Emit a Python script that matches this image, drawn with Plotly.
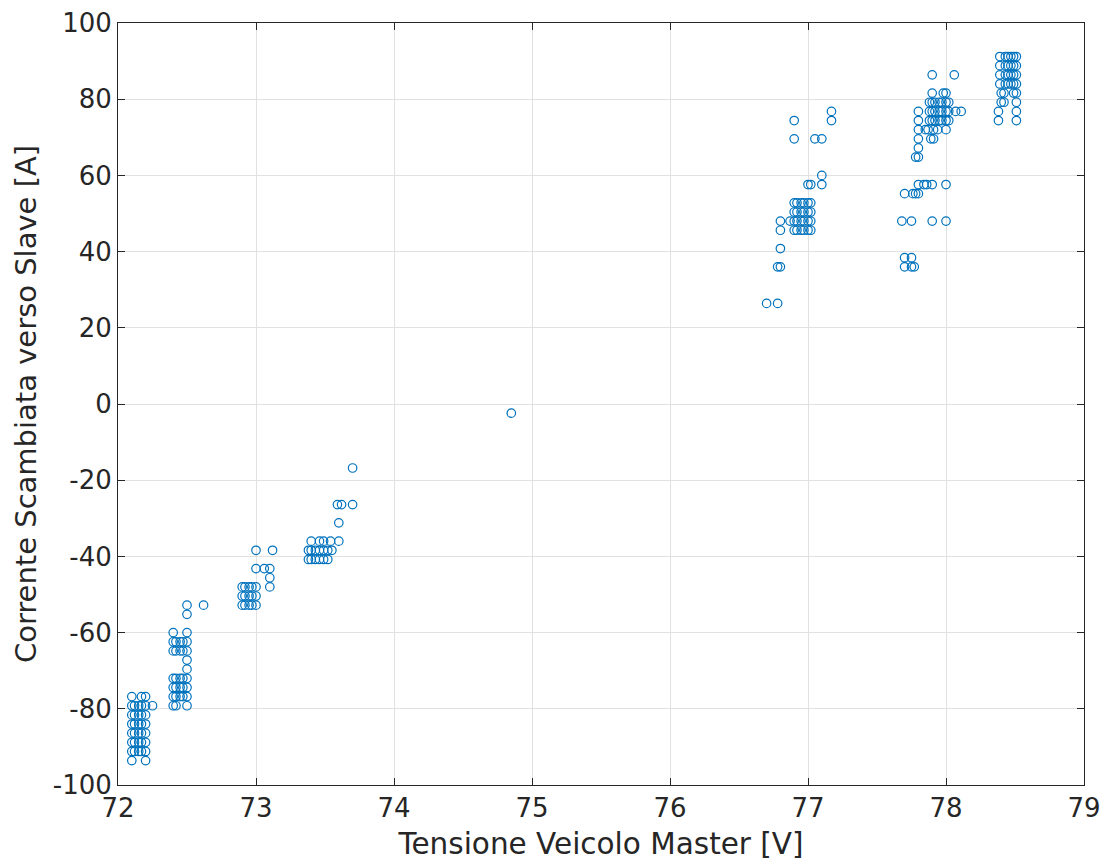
import plotly.graph_objects as go

# ---- data (current levels -> list of voltages) ----
rows_a = {
    -76.8: [72.10, 72.17, 72.20],
    -79.2: [72.10, 72.12, 72.15, 72.17, 72.20, 72.25],
    -81.6: [72.10, 72.12, 72.15, 72.17, 72.20],
    -84.0: [72.10, 72.12, 72.15, 72.17, 72.20],
    -86.4: [72.10, 72.12, 72.15, 72.17, 72.20],
    -88.8: [72.10, 72.12, 72.15, 72.17, 72.20],
    -91.2: [72.10, 72.12, 72.15, 72.17, 72.20],
    -93.6: [72.10, 72.20],
}
rows_b = {
    -52.8: [72.50, 72.62],
    -55.2: [72.50],
    -60.0: [72.40, 72.50],
    -62.4: [72.40, 72.42, 72.45, 72.47, 72.50],
    -64.8: [72.40, 72.42, 72.45, 72.47, 72.50],
    -67.2: [72.50],
    -69.6: [72.50],
    -72.0: [72.40, 72.42, 72.45, 72.47, 72.50],
    -74.4: [72.40, 72.42, 72.45, 72.47, 72.50],
    -76.8: [72.40, 72.42, 72.45, 72.47, 72.50],
    -79.2: [72.40, 72.42, 72.50],
}
rows_c = {
    -38.4: [73.00, 73.12],
    -43.2: [73.00, 73.06, 73.10],
    -45.6: [73.10],
    -48.0: [72.90, 72.92, 72.95, 72.97, 73.00, 73.10],
    -50.4: [72.90, 72.92, 72.95, 72.97, 73.00],
    -52.8: [72.90, 72.92, 72.95, 72.97, 73.00],
}
rows_d = {
    -16.8: [73.70],
    -26.4: [73.59, 73.62, 73.70],
    -31.2: [73.60],
    -36.0: [73.40, 73.46, 73.49, 73.54, 73.60],
    -38.4: [73.38, 73.40, 73.43, 73.46, 73.49, 73.52, 73.55],
    -40.8: [73.38, 73.40, 73.43, 73.46, 73.49, 73.52],
}
rows_single = {
    -2.4: [74.85],
}
rows_e = {
    26.4: [76.70, 76.78],
    36.0: [76.78, 76.80],
    40.8: [76.80],
    45.6: [76.80, 76.90, 76.92, 76.95, 76.97, 77.00, 77.02],
    48.0: [76.80, 76.87, 76.90, 76.92, 76.95, 76.97, 77.00, 77.02],
    50.4: [76.90, 76.92, 76.95, 76.97, 77.00, 77.02],
    52.8: [76.90, 76.92, 76.95, 76.97, 77.00, 77.02],
    57.6: [77.00, 77.02, 77.10],
    60.0: [77.10],
    69.6: [76.90, 77.05, 77.10],
    74.4: [76.90, 77.17],
    76.8: [77.17],
}
rows_f = {
    36.0: [77.70, 77.75, 77.77],
    38.4: [77.70, 77.75],
    48.0: [77.68, 77.75, 77.90, 78.00],
    55.2: [77.70, 77.76, 77.78, 77.80],
    57.6: [77.80, 77.84, 77.86, 77.90, 78.00],
    64.8: [77.78, 77.80],
    67.2: [77.80],
    69.6: [77.80, 77.89, 77.91],
    72.0: [77.80, 77.85, 77.87, 77.91, 77.94, 78.00],
    74.4: [77.80, 77.88, 77.90, 77.92, 77.95, 77.97, 78.00, 78.02],
    76.8: [77.80, 77.88, 77.90, 77.92, 77.95, 77.97, 78.00, 78.02, 78.07, 78.11],
    79.2: [77.88, 77.90, 77.92, 77.95, 77.97, 78.00, 78.02],
    81.6: [77.90, 77.98, 78.00],
    86.4: [77.90, 78.06],
}
rows_g = {
    74.4: [78.38, 78.51],
    76.8: [78.38, 78.51],
    79.2: [78.40, 78.42, 78.51],
    81.6: [78.40, 78.42, 78.49, 78.51],
    84.0: [78.39, 78.43, 78.45, 78.47, 78.49, 78.51],
    86.4: [78.39, 78.43, 78.45, 78.47, 78.49, 78.51],
    88.8: [78.39, 78.43, 78.45, 78.47, 78.49, 78.51],
    91.2: [78.39, 78.43, 78.45, 78.47, 78.49, 78.51],
}

x_tickvals = [72, 73, 74, 75, 76, 77, 78, 79]
x_ticktext = ["72", "73", "74", "75", "76", "77", "78", "79"]
y_tickvals = [-100, -80, -60, -40, -20, 0, 20, 40, 60, 80, 100]
y_ticktext = ["-100", "-80", "-60", "-40", "-20", "0", "20", "40", "60", "80", "100"]

tension = []
current = []
for rows in (rows_a, rows_b, rows_c, rows_d, rows_single, rows_e, rows_f, rows_g):
    for amp, volts in rows.items():
        for v in volts:
            tension.append(v)
            current.append(amp)

font_family = "DejaVu Sans"
axis_color = "#262626"
grid_color = "#e1e1e1"

fig = go.Figure(
    go.Scatter(
        x=tension,
        y=current,
        mode="markers",
        marker=dict(symbol="circle-open", size=8.5, color="#0072BD",
                    line=dict(width=1.2, color="#0072BD")),
        showlegend=False,
        hoverinfo="x+y",
    )
)

axis_common = dict(
    showline=True, mirror="allticks", linecolor=axis_color, linewidth=1,
    ticks="inside", ticklen=7, tickwidth=1, tickcolor=axis_color,
    showgrid=True, gridcolor=grid_color, gridwidth=1, zeroline=False,
    tickfont=dict(family=font_family, size=26, color=axis_color),
    automargin=False,
)

fig.update_layout(
    width=1105, height=861,
    autosize=False,
    margin=dict(l=118, r=21, t=23, b=76, pad=0),
    paper_bgcolor="white", plot_bgcolor="white",
    font=dict(family=font_family, color=axis_color),
    xaxis=dict(range=[72, 79], tickvals=x_tickvals, ticktext=x_ticktext,
               title=dict(text="Tensione Veicolo Master [V]",
                          font=dict(family=font_family, size=29.5, color=axis_color),
                          standoff=12),
               **axis_common),
    yaxis=dict(range=[-100, 100], tickvals=y_tickvals, ticktext=y_ticktext,
               title=dict(text="Corrente Scambiata verso Slave [A]",
                          font=dict(family=font_family, size=29, color=axis_color),
                          standoff=7),
               **axis_common),
)

fig.write_html("out.html")
